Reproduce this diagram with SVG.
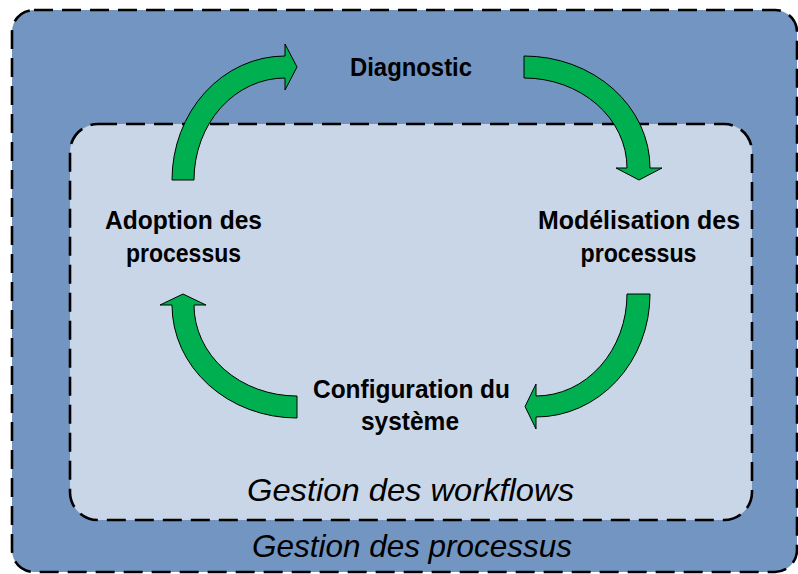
<svg xmlns="http://www.w3.org/2000/svg" width="798" height="574" viewBox="0 0 798 574">
  <style>
    .frame { stroke: #000; stroke-width: 2.6; stroke-dasharray: 19 9; }
    .outer { fill: #7395C1; }
    .inner { fill: #C9D6E7; }
    .lbl { font-family: "Liberation Sans", Arial, sans-serif; font-weight: bold; font-size: 25px; fill: #000; text-anchor: middle; }
    .ttl { font-family: "Liberation Sans", Arial, sans-serif; font-style: italic; font-size: 32px; fill: #000; text-anchor: middle; }
    .arrow { fill: #00B050; stroke: #000; stroke-width: 1; stroke-linejoin: miter; }
  </style>
  <rect width="798" height="574" fill="#ffffff"/>
  <g id="gestion-processus">
    <rect class="frame outer" x="12" y="10" width="785" height="562" rx="22" ry="22"/>
    <text class="ttl" x="412" y="557" textLength="320" lengthAdjust="spacingAndGlyphs">Gestion des processus</text>
  </g>
  <g id="gestion-workflows">
    <rect class="frame inner" x="70" y="124" width="682" height="396" rx="28" ry="28"/>
    <text class="ttl" x="410.5" y="501" textLength="327" lengthAdjust="spacingAndGlyphs">Gestion des workflows</text>
  </g>
  <g id="connectors">
    <path class="arrow" d="M172,180 A113,124 0 0 1 285,56 L285,44 L297,67 L285,90 L285,78 A91,102 0 0 0 194,180 Z"/>
    <path class="arrow" d="M524,56 A126,112 0 0 1 650,168 L662,168 L639,180 L616,168 L627,168 A103,90 0 0 0 524,78 Z"/>
    <path class="arrow" d="M627,294 L650,294 A114,123 0 0 1 536,417 L536,429 L525,406.5 L536,384 L536,396 A91,102 0 0 0 627,294 Z"/>
    <path class="arrow" d="M297,396 L297,418 A125,113 0 0 1 172,305 L160,305 L183,294 L206,305 L194,305 A103,91 0 0 0 297,396 Z"/>
  </g>
  <g id="diagnostic">
    <text class="lbl" x="411" y="76" textLength="122" lengthAdjust="spacingAndGlyphs">Diagnostic</text>
  </g>
  <g id="modelisation">
    <text class="lbl" x="639" y="229" textLength="202" lengthAdjust="spacingAndGlyphs">Modélisation des</text>
    <text class="lbl" x="638.5" y="262" textLength="116" lengthAdjust="spacingAndGlyphs">processus</text>
  </g>
  <g id="configuration">
    <text class="lbl" x="411.5" y="398" textLength="197" lengthAdjust="spacingAndGlyphs">Configuration du</text>
    <text class="lbl" x="410" y="430" textLength="98" lengthAdjust="spacingAndGlyphs">système</text>
  </g>
  <g id="adoption">
    <text class="lbl" x="183.5" y="229" textLength="157" lengthAdjust="spacingAndGlyphs">Adoption des</text>
    <text class="lbl" x="183.5" y="262" textLength="115" lengthAdjust="spacingAndGlyphs">processus</text>
  </g>
</svg>
